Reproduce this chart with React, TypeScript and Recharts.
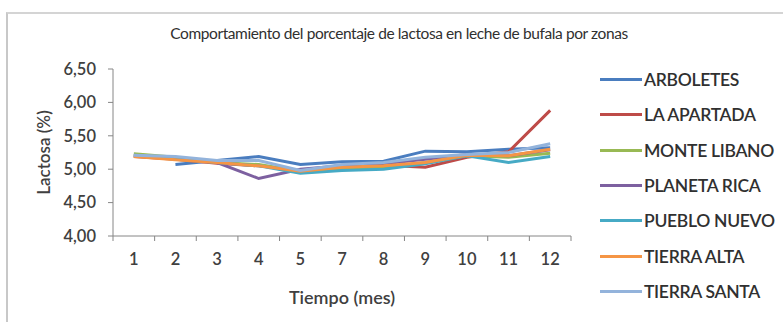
import React from 'react';
import { LineChart, Line, XAxis, YAxis } from 'recharts';

const months = ['1', '2', '3', '4', '5', '7', '8', '9', '10', '11', '12'];
const arboletes = [null, 5.07, 5.13, 5.19, 5.07, 5.11, 5.12, 5.27, 5.26, 5.3, 5.32];
const laApartada = [5.19, 5.15, 5.09, 5.05, 4.98, 5.03, 5.06, 5.03, 5.18, 5.26, 5.88];
const monteLibano = [5.23, 5.18, 5.1, 5.07, 4.97, 5.0, 5.02, 5.1, 5.2, 5.18, 5.24];
const planetaRica = [5.2, 5.16, 5.1, 4.86, 5.0, 5.05, 5.08, 5.15, 5.22, 5.2, 5.29];
const puebloNuevo = [5.21, 5.15, 5.1, 5.05, 4.94, 4.98, 5.0, 5.08, 5.2, 5.1, 5.19];
const tierraAlta = [5.19, 5.14, 5.1, 5.05, 4.97, 5.03, 5.05, 5.1, 5.21, 5.2, 5.3];
const tierraSanta = [5.21, 5.19, 5.13, 5.13, 4.98, 5.07, 5.1, 5.18, 5.22, 5.25, 5.38];
const yTicks = [4.0, 4.5, 5.0, 5.5, 6.0, 6.5];

const series = [
  { key: 'ARBOLETES', values: arboletes, color: '#4A7DBF' },
  { key: 'LA APARTADA', values: laApartada, color: '#BE4B48' },
  { key: 'MONTE LIBANO', values: monteLibano, color: '#98B954' },
  { key: 'PLANETA RICA', values: planetaRica, color: '#7D60A0' },
  { key: 'PUEBLO NUEVO', values: puebloNuevo, color: '#46AAC5' },
  { key: 'TIERRA ALTA', values: tierraAlta, color: '#F59545' },
  { key: 'TIERRA SANTA', values: tierraSanta, color: '#93B3DB' },
];

const data = months.map((m, i) => {
  const row: Record<string, any> = { month: m };
  series.forEach((s) => {
    row[s.key] = s.values[i];
  });
  return row;
});

const FONT = 'Lato, "Open Sans", sans-serif';
const TXT = '#404040';
const AXIS = '#868686';

const XTick = (props: any) => {
  const { x, y, payload, index } = props;
  const half = payload && typeof payload.offset === 'number' ? payload.offset : 0;
  const last = index === months.length - 1;
  return (
    <g>
      <line x1={x - half} x2={x - half} y1={y} y2={y + 5} stroke={AXIS} />
      {last && <line x1={x + half} x2={x + half} y1={y} y2={y + 5} stroke={AXIS} />}
      <text x={x} y={y + 29} textAnchor="middle" fill={TXT} fontSize={16.5} fontFamily={FONT} fontWeight={600}>
        {payload.value}
      </text>
    </g>
  );
};

export default function App() {
  return (
    <div style={{ position: 'absolute', left: 0, top: 0, width: 783, height: 322, background: '#fff', fontFamily: FONT, overflow: 'hidden' }}>
      <div style={{ position: 'absolute', left: 6, top: 12, width: 790, height: 320, borderLeft: '2px solid #c8c8c8', borderTop: '2px solid #d4d4d4' }} />
      <div style={{ position: 'absolute', left: 0, width: 798, top: 24, textAlign: 'center', fontSize: 15.5, color: '#303030', letterSpacing: -0.4 }}>
        Comportamiento del porcentaje de lactosa en leche de bufala por zonas
      </div>
      <div style={{ position: 'absolute', left: 0, top: 0 }}>
        <LineChart width={783} height={322} data={data} margin={{ top: 69, right: 212, left: 0, bottom: 0 }}>
          <XAxis
            dataKey="month"
            scale="band"
            height={86}
            axisLine={{ stroke: AXIS, strokeWidth: 1 }}
            tickLine={false}
            tickSize={0}
            tickMargin={0}
            tick={<XTick />}
            interval={0}
            label={{ value: 'Tiempo (mes)', position: 'insideBottom', offset: 18, fill: TXT, fontSize: 18, fontFamily: FONT, fontWeight: 600 }}
          />
          <YAxis
            domain={[4, 6.5]}
            ticks={yTicks}
            width={113}
            interval={0}
            axisLine={{ stroke: AXIS, strokeWidth: 1 }}
            tickLine={{ stroke: AXIS }}
            tickSize={5}
            tickMargin={12}
            tickFormatter={(v: number) => v.toFixed(2).replace('.', ',')}
            tick={{ fill: TXT, fontSize: 16.5, fontFamily: FONT, fontWeight: 600 }}
            label={{ value: 'Lactosa  (%)', angle: -90, position: 'insideLeft', offset: 44, fill: TXT, fontSize: 17, fontFamily: FONT, fontWeight: 600, style: { textAnchor: 'middle' } }}
          />
          {series.map((s) => (
            <Line
              key={s.key}
              type="linear"
              dataKey={s.key}
              stroke={s.color}
              strokeWidth={3}
              dot={false}
              isAnimationActive={false}
            />
          ))}
        </LineChart>
      </div>
      <div style={{ position: 'absolute', left: 600, top: 62 }}>
        {series.map((s) => (
          <div key={s.key} style={{ display: 'flex', alignItems: 'center', height: 35.3, whiteSpace: 'nowrap' }}>
            <div style={{ width: 42, height: 3, background: s.color, marginRight: 2, flex: 'none' }} />
            <span style={{ fontSize: 17.5, color: '#303030', fontWeight: 600, letterSpacing: -0.3 }}>{s.key}</span>
          </div>
        ))}
      </div>
    </div>
  );
}
